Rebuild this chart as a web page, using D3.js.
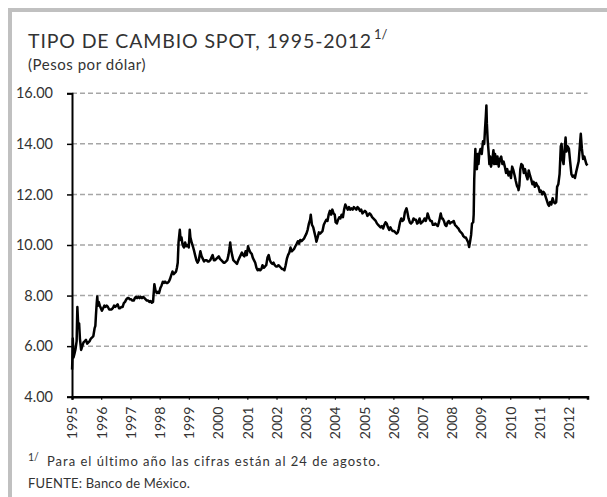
<!DOCTYPE html>
<html>
<head>
<meta charset="utf-8">
<script src="https://cdn.jsdelivr.net/npm/d3@7"></script>
<style>
  html, body { margin: 0; padding: 0; background: #ffffff; }
  svg { display: block; }
  text { font-family: Lato, "Open Sans", sans-serif; fill: #333333; }
</style>
</head>
<body>
<svg id="chart" width="607" height="497"></svg>
<script>
// ---- Data ----
const title = "TIPO DE CAMBIO SPOT, 1995-2012";
const titleNote = "1/";
const subtitle = "(Pesos por dólar)";
const footNote = "Para el último  año las cifras están  al 24 de agosto.";
const source = "FUENTE: Banco de México.";

const yTicks = [4, 6, 8, 10, 12, 14, 16];
const xTickYears = d3.range(1995, 2013);

const dates = [
"1995-01-02","1995-01-06","1995-01-11","1995-01-20","1995-02-01","1995-02-15","1995-02-28","1995-03-09","1995-03-20","1995-03-31",
"1995-04-10","1995-04-25","1995-05-10","1995-05-25","1995-06-10","1995-06-25","1995-07-10","1995-07-25","1995-08-10","1995-08-25",
"1995-09-10","1995-09-25","1995-10-10","1995-10-20","1995-10-27","1995-11-06","1995-11-13","1995-11-20","1995-12-01","1995-12-15",
"1996-01-10","1996-01-25","1996-02-10","1996-02-25","1996-03-10","1996-03-25","1996-04-10","1996-04-25","1996-05-10","1996-05-25",
"1996-06-10","1996-06-25","1996-07-10","1996-07-25","1996-08-10","1996-08-25","1996-09-10","1996-09-25","1996-10-10","1996-10-25",
"1996-11-10","1996-11-25","1996-12-10","1996-12-25",
"1997-01-10","1997-01-25","1997-02-10","1997-02-25","1997-03-10","1997-03-25","1997-04-10","1997-04-25","1997-05-10","1997-05-25",
"1997-06-10","1997-06-25","1997-07-10","1997-07-25","1997-08-10","1997-08-25","1997-09-10","1997-09-25","1997-10-10","1997-10-27",
"1997-11-10","1997-11-25","1997-12-10","1997-12-25",
"1998-01-10","1998-01-25","1998-02-10","1998-02-25","1998-03-10","1998-03-25","1998-04-10","1998-04-25","1998-05-10","1998-05-25",
"1998-06-10","1998-06-25","1998-07-10","1998-07-25","1998-08-05","1998-08-15","1998-08-25","1998-09-10","1998-09-20","1998-10-01",
"1998-10-15","1998-10-31","1998-11-15","1998-11-30","1998-12-15","1998-12-31",
"1999-01-05","1999-01-12","1999-01-20","1999-02-05","1999-02-20","1999-03-05","1999-03-20","1999-04-05","1999-04-20","1999-05-05",
"1999-05-25","1999-06-10","1999-06-25","1999-07-10","1999-07-25","1999-08-10","1999-08-25","1999-09-10","1999-09-25","1999-10-10",
"1999-10-25","1999-11-10","1999-11-25","1999-12-10","1999-12-25",
"2000-01-10","2000-01-25","2000-02-10","2000-02-25","2000-03-10","2000-03-25","2000-04-10","2000-04-25","2000-05-10","2000-05-25",
"2000-06-01","2000-06-10","2000-06-25","2000-07-10","2000-07-25","2000-08-10","2000-08-25","2000-09-10","2000-09-25","2000-10-10",
"2000-10-25","2000-11-10","2000-11-25","2000-12-10","2000-12-25",
"2001-01-10","2001-01-25","2001-02-10","2001-02-25","2001-03-10","2001-03-25","2001-04-10","2001-04-25","2001-05-10","2001-05-25",
"2001-06-10","2001-06-25","2001-07-10","2001-07-25","2001-08-10","2001-08-25","2001-09-10","2001-09-25","2001-10-10","2001-10-25",
"2001-11-10","2001-11-25","2001-12-10","2001-12-25",
"2002-01-10","2002-01-25","2002-02-10","2002-02-25","2002-03-10","2002-03-25","2002-04-10","2002-04-25","2002-05-10","2002-05-25",
"2002-06-10","2002-06-25","2002-07-10","2002-07-25","2002-08-10","2002-08-25","2002-09-10","2002-09-25","2002-10-10","2002-10-25",
"2002-11-10","2002-11-25","2002-12-10","2002-12-25",
"2003-01-10","2003-01-25","2003-02-10","2003-02-25","2003-03-05","2003-03-20","2003-04-05","2003-04-20","2003-05-05","2003-05-15",
"2003-05-30","2003-06-15","2003-06-30","2003-07-15","2003-07-30","2003-08-15","2003-08-30","2003-09-15","2003-09-30","2003-10-15",
"2003-10-30","2003-11-15","2003-11-30","2003-12-15","2003-12-30",
"2004-01-10","2004-01-25","2004-02-10","2004-02-25","2004-03-10","2004-03-25","2004-04-10","2004-04-25","2004-05-10","2004-05-25",
"2004-06-10","2004-06-25","2004-07-10","2004-07-25","2004-08-10","2004-08-25","2004-09-10","2004-09-25","2004-10-10","2004-10-25",
"2004-11-10","2004-11-25","2004-12-10","2004-12-25",
"2005-01-10","2005-01-25","2005-02-10","2005-02-25","2005-03-10","2005-03-25","2005-04-10","2005-04-25","2005-05-10","2005-05-25",
"2005-06-10","2005-06-25","2005-07-10","2005-07-25","2005-08-10","2005-08-25","2005-09-10","2005-09-25","2005-10-10","2005-10-25",
"2005-11-10","2005-11-25","2005-12-10","2005-12-25",
"2006-01-10","2006-01-25","2006-02-10","2006-02-25","2006-03-10","2006-03-25","2006-04-10","2006-04-25","2006-05-10","2006-05-25",
"2006-06-14","2006-06-25","2006-07-10","2006-07-25","2006-08-10","2006-08-25","2006-09-10","2006-09-25","2006-10-10","2006-10-25",
"2006-11-10","2006-11-25","2006-12-10","2006-12-25",
"2007-01-10","2007-01-25","2007-02-10","2007-02-25","2007-03-05","2007-03-25","2007-04-10","2007-04-25","2007-05-10","2007-05-25",
"2007-06-10","2007-06-25","2007-07-10","2007-07-25","2007-08-16","2007-08-30","2007-09-10","2007-09-25","2007-10-10","2007-10-25",
"2007-11-10","2007-11-25","2007-12-10","2007-12-25",
"2008-01-10","2008-01-25","2008-02-10","2008-02-25","2008-03-10","2008-03-25","2008-04-10","2008-04-25","2008-05-10","2008-05-25",
"2008-06-10","2008-06-25","2008-07-10","2008-07-25","2008-08-05","2008-08-20","2008-08-30","2008-09-10","2008-09-25","2008-10-01",
"2008-10-08","2008-10-15","2008-10-22","2008-10-30","2008-11-10","2008-11-20","2008-11-30","2008-12-10","2008-12-25",
"2009-01-10","2009-01-25","2009-02-10","2009-02-20","2009-03-02","2009-03-09","2009-03-15","2009-03-25","2009-04-05","2009-04-15",
"2009-04-25","2009-05-05","2009-05-20","2009-06-05","2009-06-15","2009-06-25","2009-07-10","2009-07-25","2009-08-10","2009-08-25",
"2009-09-10","2009-09-25","2009-10-10","2009-10-25","2009-11-10","2009-11-25","2009-12-10","2009-12-25",
"2010-01-10","2010-01-25","2010-02-10","2010-02-25","2010-03-10","2010-03-25","2010-04-10","2010-04-15","2010-04-25","2010-05-07",
"2010-05-20","2010-06-05","2010-06-20","2010-07-05","2010-07-20","2010-08-05","2010-08-20","2010-09-05","2010-09-20","2010-10-05",
"2010-10-20","2010-11-05","2010-11-20","2010-12-05","2010-12-20",
"2011-01-05","2011-01-20","2011-02-05","2011-02-20","2011-03-05","2011-03-20","2011-04-05","2011-04-20","2011-05-01","2011-05-15",
"2011-05-30","2011-06-15","2011-06-30","2011-07-15","2011-07-30","2011-08-10","2011-08-25","2011-09-10","2011-09-25","2011-10-05",
"2011-10-15","2011-10-30","2011-11-10","2011-11-24","2011-12-05","2011-12-20",
"2012-01-05","2012-01-20","2012-02-05","2012-02-20","2012-03-05","2012-03-20","2012-04-05","2012-04-20","2012-05-05","2012-05-20",
"2012-06-01","2012-06-15","2012-06-30","2012-07-15","2012-08-01","2012-08-10","2012-08-24"
];

const rates = [
5.07,5.5,6.3,5.55,5.7,5.9,6.2,7.55,6.8,6.9,
6.3,5.85,6.0,6.15,6.2,6.25,6.1,6.15,6.2,6.3,
6.35,6.4,6.7,6.8,7.2,7.7,7.96,7.6,7.75,7.6,
7.4,7.5,7.6,7.55,7.6,7.55,7.45,7.45,7.45,7.5,
7.6,7.55,7.6,7.65,7.5,7.5,7.55,7.55,7.7,7.75,
7.85,7.9,7.9,7.85,
7.85,7.8,7.8,7.9,7.95,7.9,7.95,7.9,7.95,7.9,
7.95,7.9,7.85,7.8,7.8,7.75,7.78,7.72,7.75,8.45,
8.2,8.1,8.15,8.1,
8.3,8.4,8.55,8.5,8.55,8.5,8.5,8.55,8.65,8.8,
8.95,8.85,8.9,8.95,9.1,9.3,10.1,10.6,10.2,10.3,
10.0,9.9,10.1,9.95,10.0,9.9,
10.2,10.6,10.3,10.1,9.95,9.8,9.6,9.4,9.3,9.4,
9.75,9.55,9.45,9.35,9.4,9.4,9.35,9.35,9.4,9.5,
9.6,9.4,9.4,9.45,9.5,
9.55,9.45,9.4,9.35,9.3,9.3,9.35,9.4,9.6,9.9,
10.1,9.85,9.6,9.4,9.35,9.3,9.25,9.4,9.5,9.6,
9.7,9.6,9.55,9.75,9.6,
9.95,9.8,9.7,9.65,9.5,9.4,9.3,9.1,9.0,9.05,
9.0,9.05,9.2,9.1,9.15,9.2,9.5,9.6,9.4,9.3,
9.25,9.3,9.2,9.15,
9.15,9.2,9.15,9.1,9.05,9.05,9.0,9.2,9.45,9.6,
9.7,9.9,9.75,9.8,9.85,9.95,10.05,10.15,10.05,10.2,
10.15,10.2,10.25,10.35,
10.45,10.6,10.85,11.0,11.2,10.8,10.7,10.5,10.3,10.13,
10.3,10.5,10.45,10.5,10.55,10.8,10.9,11.0,10.95,11.2,
11.35,11.2,11.4,11.25,11.2,
10.9,10.85,11.0,11.1,11.05,11.2,11.1,11.4,11.6,11.5,
11.4,11.5,11.4,11.45,11.4,11.5,11.45,11.4,11.5,11.45,
11.35,11.4,11.25,11.3,
11.35,11.3,11.15,11.2,11.25,11.2,11.1,11.05,11.0,10.95,
10.85,10.8,10.75,10.7,10.75,10.65,10.8,10.9,10.85,10.7,
10.6,10.7,10.6,10.55,
10.55,10.5,10.45,10.5,10.65,10.9,11.05,10.95,11.0,11.3,
11.45,11.3,11.05,10.9,10.85,10.9,11.05,11.0,11.0,10.85,
10.9,11.05,10.85,10.9,
10.95,11.05,10.95,11.1,11.25,11.05,10.95,10.95,10.8,10.8,
10.85,10.8,10.75,10.9,11.25,11.05,11.05,10.95,10.8,10.75,
10.9,10.95,10.85,10.9,
10.9,10.95,10.8,10.75,10.7,10.65,10.55,10.5,10.45,10.35,
10.3,10.3,10.2,10.1,9.92,10.2,10.4,10.85,10.9,11.2,
12.6,13.2,13.8,13.1,13.0,13.6,13.2,13.6,13.8,
13.6,14.1,14.0,14.6,15.1,15.52,14.8,14.15,13.7,13.2,
13.5,13.1,13.3,13.75,13.2,13.6,13.2,13.5,13.1,13.4,
13.5,13.2,13.3,13.1,12.85,13.0,12.75,12.9,
12.65,13.1,12.95,12.75,12.55,12.35,12.25,12.17,12.35,13.0,
13.2,13.15,12.85,13.0,12.75,12.6,12.95,12.75,12.6,12.4,
12.5,12.3,12.45,12.35,12.3,
12.1,12.15,12.0,12.1,12.05,11.9,11.75,11.6,11.55,11.7,
11.6,11.85,11.7,11.65,11.7,12.3,12.4,12.8,13.9,14.0,
13.4,13.2,13.7,14.25,13.7,13.9,
13.8,13.3,12.8,12.7,12.75,12.65,12.9,13.1,13.3,13.9,
14.4,13.8,13.4,13.5,13.3,13.2,13.15
];

// ---- Chart ----
const parse = d3.timeParse("%Y-%m-%d");
const series = dates.map((d, i) => ({ date: parse(d), value: rates[i] }));

const svg = d3.select("#chart");
const W = 607, H = 497;

// stretch a text element's letter spacing so it spans a given width
function fitWidth(sel, target) {
  const node = sel.node();
  const len = node.getComputedTextLength();
  const n = node.textContent.length;
  if (n > 1) sel.attr("letter-spacing", ((target - len) / n).toFixed(3));
}

// Frame (grey border on top and left)
svg.append("line").attr("x1", 8).attr("x2", W).attr("y1", 10).attr("y2", 10)
  .attr("stroke", "#c0c0c0").attr("stroke-width", 4);
svg.append("line").attr("x1", 10).attr("x2", 10).attr("y1", 8).attr("y2", H)
  .attr("stroke", "#c0c0c0").attr("stroke-width", 4);

const mLeft = 72, mRight = 587.5, mTop = 93.3, mBottom = 396.7;

const x = d3.scaleTime()
  .domain([parse("1995-01-01"), parse("2012-08-24")])
  .range([mLeft, mRight]);
const y = d3.scaleLinear().domain([4, 16]).range([mBottom, mTop]);

// Gridlines
svg.append("g").selectAll("line")
  .data(yTicks.filter(v => v > 4))
  .join("line")
  .attr("x1", mLeft).attr("x2", mRight)
  .attr("y1", d => y(d)).attr("y2", d => y(d))
  .attr("stroke", "#a6a6a6").attr("stroke-width", 1.5)
  .attr("stroke-dasharray", "5,3");

// Y axis
const yAxis = svg.append("g")
  .attr("transform", `translate(${mLeft},0)`)
  .call(d3.axisLeft(y).tickValues(yTicks).tickFormat(d3.format(".2f")).tickSize(5).tickPadding(14));
yAxis.select(".domain").attr("stroke", "#000").attr("stroke-width", 2);
yAxis.selectAll(".tick line").attr("stroke", "#000").attr("stroke-width", 1.5);
yAxis.selectAll(".tick text").attr("font-size", 14.5).attr("fill", "#333")
  .style("font-family", "Lato, sans-serif");

// X axis
const xAxis = svg.append("g")
  .attr("transform", `translate(0,${mBottom})`)
  .call(d3.axisBottom(x)
    .tickValues(xTickYears.map(yr => new Date(yr, 0, 1)))
    .tickFormat(d3.timeFormat("%Y"))
    .tickSizeOuter(0)
    .tickSize(3));
xAxis.select(".domain").attr("stroke", "#000").attr("stroke-width", 2.5);
xAxis.selectAll(".tick line").attr("stroke", "#000").attr("stroke-width", 1.2);
xAxis.selectAll(".tick text")
  .attr("font-size", 14).attr("fill", "#333")
  .style("font-family", "Lato, sans-serif")
  .attr("text-anchor", "end")
  .attr("transform", "rotate(-90)")
  .attr("x", -10).attr("y", 0).attr("dy", "0.35em");

// Line
svg.append("path")
  .datum(series)
  .attr("fill", "none")
  .attr("stroke", "#000")
  .attr("stroke-width", 2.5)
  .attr("stroke-linejoin", "round")
  .attr("d", d3.line().x(d => x(d.date)).y(d => y(d.value)));

// Titles
const tMain = svg.append("text").attr("x", 28).attr("y", 48).attr("font-size", 19.5).text(title);
fitWidth(tMain, 344);
svg.append("text").attr("x", 374).attr("y", 39).attr("font-size", 13).text(titleNote);
const st = svg.append("text").attr("x", 28).attr("y", 70).attr("font-size", 15).text(subtitle);
fitWidth(st, 118);

// Footnotes
svg.append("text").attr("x", 28).attr("y", 461).attr("font-size", 10.5).text("1/");
const fn = svg.append("text").attr("x", 47).attr("y", 466).attr("font-size", 13).text(footNote);
fitWidth(fn, 336);
const src = svg.append("text").attr("x", 28).attr("y", 488).attr("font-size", 13).text(source);
fitWidth(src, 162);
</script>
</body>
</html>
